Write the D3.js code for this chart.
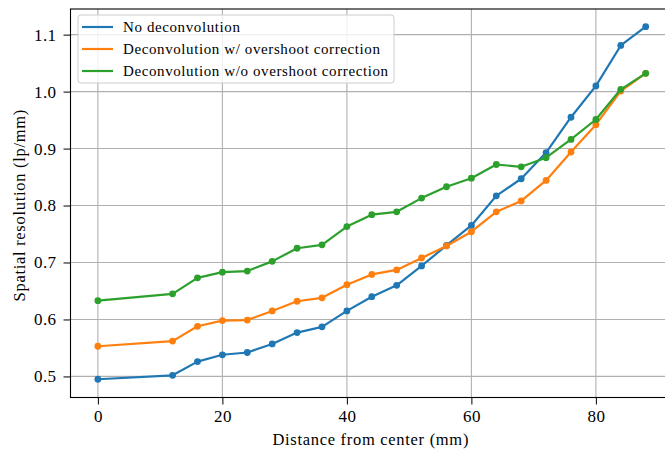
<!DOCTYPE html>
<html><head><meta charset="utf-8">
<script src="https://cdn.jsdelivr.net/npm/d3@7"></script>
<style>body{margin:0;background:#fff}svg{display:block}text{font-family:"Liberation Serif",serif}</style>
</head><body>
<svg id="c" width="665" height="451"></svg>
<script>
const distances = [0,12,16,20,24,28,32,36,40,44,48,52,56,60,64,68,72,76,80,84,88];
const noDeconv = [0.495,0.502,0.526,0.538,0.542,0.557,0.577,0.587,0.615,0.640,0.660,0.694,0.730,0.765,0.817,0.847,0.893,0.955,1.010,1.081,1.114];
const deconvWith = [0.553,0.562,0.588,0.598,0.599,0.615,0.632,0.638,0.661,0.679,0.687,0.708,0.729,0.754,0.789,0.808,0.844,0.894,0.942,1.001,1.032];
const deconvWithout = [0.633,0.645,0.673,0.683,0.685,0.702,0.725,0.731,0.763,0.784,0.789,0.813,0.833,0.848,0.872,0.868,0.884,0.916,0.951,1.004,1.032];
const seriesNames = ["No deconvolution","Deconvolution w/ overshoot correction","Deconvolution w/o overshoot correction"];
const colors = ["#1f77b4","#ff7f0e","#2ca02c"];
const xTicks = [0,20,40,60,80];
const yTicks = [0.5,0.6,0.7,0.8,0.9,1.0,1.1];

const svg = d3.select("#c");
const L = 70.5, T = 9, B = 397.5;
const x = d3.scaleLinear().domain([-4.4, 92.4]).range([L, L + (92.4+4.4)*6.225]);
const y = d3.scaleLinear().domain([0.463, 1.145]).range([B, T]);
const R = x.range()[1];

// grid
const g = svg.append("g");
g.selectAll(".gx").data(xTicks).join("line")
  .attr("x1", d=>x(d)).attr("x2", d=>x(d)).attr("y1", T).attr("y2", B)
  .attr("stroke", "#b0b0b0").attr("stroke-width", 1.1);
g.selectAll(".gy").data(yTicks).join("line")
  .attr("x1", L).attr("x2", R).attr("y1", d=>y(d)).attr("y2", d=>y(d))
  .attr("stroke", "#b0b0b0").attr("stroke-width", 1.1);

// axes
const xAxis = d3.axisBottom(x).tickValues(xTicks).tickFormat(d3.format("d")).tickSize(7).tickPadding(5);
const yAxis = d3.axisLeft(y).tickValues(yTicks).tickFormat(d3.format(".1f")).tickSize(7).tickPadding(7);
const gx = svg.append("g").attr("transform", `translate(0,${B})`).call(xAxis);
const gy = svg.append("g").attr("transform", `translate(${L},0)`).call(yAxis);
[gx, gy].forEach(a => {
  a.select(".domain").remove();
  a.selectAll("text").attr("font-size", 17).attr("fill", "#000")
    .attr("font-family", "Liberation Serif").attr("letter-spacing", 0.4);
  a.selectAll("line").attr("stroke", "#000").attr("stroke-width", 1);
});

// data
const allSeries = [noDeconv, deconvWith, deconvWithout];
const line = d3.line().x((d,i)=>x(distances[i])).y(d=>y(d));
allSeries.forEach((s, k) => {
  svg.append("path").datum(s).attr("d", line).attr("fill", "none")
    .attr("stroke", colors[k]).attr("stroke-width", 2.2).attr("stroke-linejoin", "round");
  svg.append("g").selectAll("circle").data(s).join("circle")
    .attr("cx", (d,i)=>x(distances[i])).attr("cy", d=>y(d)).attr("r", 3.4).attr("fill", colors[k]);
});

// spines
svg.append("rect").attr("x", L).attr("y", T).attr("width", R - L).attr("height", B - T)
  .attr("fill", "none").attr("stroke", "#000").attr("stroke-width", 1.1);

// labels
svg.append("text").attr("x", (x(-4.4)+x(92.4))/2 - 1).attr("y", 445).attr("text-anchor", "middle")
  .attr("font-size", 16.5).attr("letter-spacing", 0.7).text("Distance from center (mm)");
svg.append("text").attr("transform", `translate(25,${(T+B)/2+2}) rotate(-90)`).attr("text-anchor", "middle")
  .attr("font-size", 16.5).attr("letter-spacing", 0.7).text("Spatial resolution (lp/mm)");

// legend
const lg = svg.append("g");
lg.append("rect").attr("x", 78).attr("y", 15).attr("width", 316).attr("height", 68).attr("rx", 3)
  .attr("fill", "#fff").attr("fill-opacity", 0.8).attr("stroke", "#cccccc").attr("stroke-width", 1);
seriesNames.forEach((n, k) => {
  const yy = 27 + k*22;
  lg.append("line").attr("x1", 82).attr("x2", 113).attr("y1", yy).attr("y2", yy)
    .attr("stroke", colors[k]).attr("stroke-width", 2.2);
  lg.append("text").attr("x", 123).attr("y", yy + 5).attr("font-size", 15)
    .attr("letter-spacing", 0.6).text(n);
});
</script>
</body></html>
